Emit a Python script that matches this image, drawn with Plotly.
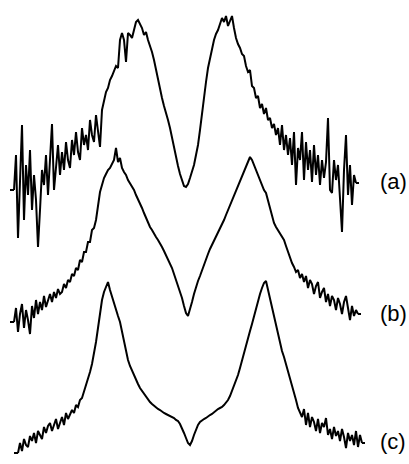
import plotly.graph_objects as go

# Field axis (arbitrary units), 2-unit sampling
field_a = list(range(14, 358, 2))
field_b = list(range(14, 360, 2))
field_c = list(range(18, 364, 2))

# Signal intensities (arbitrary units, baseline = 0 at left end)
signal_a = [0, 35, -48, 10, 65, -30, 25, -5, 40, -20, 15, -10, -57, -20, 20, 5, 35, -5, 30, 66,
            0, 25, 45, 15, 38, 20, 48, 30, 22, 50, 35, 58, 38, 30, 62, 45, 55, 40, 70, 55,
            48, 75, 60, 43,
            80, 90, 98, 102, 110, 114, 120, 124, 122, 150,
            157, 150, 128, 157, 155, 152, 160, 168, 170, 166,
            162, 155, 158, 150, 145, 138, 130, 120, 110, 100,
            92, 84, 78, 70, 62, 52, 42, 32, 24, 16,
            9, 4, 3, 6, 12, 18, 25, 35, 45, 60,
            78, 94, 108, 122, 132, 142, 150, 156, 160, 166,
            172, 168, 174, 164, 170, 174, 162, 152, 146,
            142, 136, 134, 124, 118, 120, 104, 102, 92, 94,
            82, 86, 76, 82, 70, 72, 62, 66, 55, 62,
            45, 65, 40, 55, 35, 52, 25, 58, 5, 42,
            30, 58, 10, 48, 20, 40, 8, 45, 15, 35,
            5, 30, 12, 28, 72, 0, -3, 30, 10, 25,
            -10, -42, 20, 55, -5, 25, -15, 15, 7]

signal_b = [0, 14, -10, 8, 18, -6, 12, 2, -12, 16, 4, 22, 8, 20, 12, 26, 15, 22, 28, 20,
            30, 24, 33, 28,
            30, 38, 34, 42, 40, 48, 46, 54, 52, 62, 60, 70, 70, 80, 80, 92,
            94, 102, 117, 130, 137, 144, 148, 152, 154, 159, 162, 174, 160, 164, 154, 150, 147, 142, 139, 135,
            132, 127, 123, 119, 114, 109, 104, 100, 95, 92, 88, 85, 82, 79, 75, 71, 67, 63, 59, 54,
            48, 42, 37, 31, 24, 16, 9, 6, 12, 20, 28, 35, 41, 46, 52, 58, 63, 68, 73, 77,
            81, 85, 90, 94, 98, 102, 107, 112, 117, 122, 127, 131, 136, 142, 147, 152, 157, 161, 165, 162,
            157, 152, 146, 142, 137, 132, 129, 122, 114, 106, 99, 95, 92, 88, 85, 82, 76, 70, 64, 59,
            55, 50, 52,
            44, 48, 40, 46, 34, 42, 38, 28, 36, 40,
            24, 30, 34, 20, 28, 16, 26, 22, 12, 24,
            18, 8, 20, 26, 14, 2, 16, 6, 12, 8]

signal_c = [0, 10, 2, 14, 8, 6, 17, 12, 20, 10, 22, 18, 14, 26, 20, 27, 30, 22, 28, 34,
            24, 30, 36, 28, 40, 34, 38,
            43, 40, 48, 46, 53, 55, 61, 67, 73, 81, 89, 99, 111,
            125, 141, 153, 161, 167, 171, 163, 156, 150, 143, 137, 131, 121, 111, 101, 93, 87, 82, 77, 73,
            69, 65, 62, 59, 56, 53, 51, 49, 47, 45, 44, 43, 41, 40, 39, 38, 37, 36, 35, 33,
            32, 29, 25, 20, 15, 10, 8, 12, 18, 24, 28, 31, 33, 34, 35, 37, 38, 39, 41, 43,
            44, 45, 46, 48, 50, 53, 57, 62, 67, 72, 78, 85, 93, 101, 109, 116, 122, 129, 137, 145,
            153, 159, 165, 170, 172, 163, 155, 146, 137, 127, 117, 109, 102, 96, 89, 81, 75, 69, 61, 53,
            45,
            41, 36, 44, 28, 40, 26, 36, 31, 22, 34,
            20, 30, 26, 35, 18, 24, 14, 26, 17, 22,
            12, 24, 16, 5, 20, 12, 18, 8, 22, 6,
            18, 10]

labels = ["(a)", "(b)", "(c)"]
offsets = [274, 142, 11]

fig = go.Figure()
line = dict(color="black", width=2)

for fx, sig, off in zip([field_a, field_b, field_c], [signal_a, signal_b, signal_c], offsets):
    ys = [off + v for v in sig]
    fig.add_trace(go.Scatter(x=fx, y=ys, mode="lines", line=line, hoverinfo="skip"))
    # baseline end markers
    fig.add_trace(go.Scatter(x=[fx[0] - 4, fx[0]], y=[ys[0], ys[0]], mode="lines",
                             line=line, hoverinfo="skip"))
    fig.add_trace(go.Scatter(x=[fx[-1], fx[-1] + 3], y=[ys[-1], ys[-1]], mode="lines",
                             line=line, hoverinfo="skip"))

label_y = [283, 151, 23]
for lab, ly in zip(labels, label_y):
    fig.add_annotation(x=393, y=ly, text=lab, showarrow=False,
                       font=dict(family="Liberation Sans, Arial, sans-serif", size=22, color="black"),
                       xanchor="center", yanchor="middle")

fig.update_layout(
    width=409, height=464,
    margin=dict(l=0, r=0, t=0, b=0),
    paper_bgcolor="white", plot_bgcolor="white",
    showlegend=False,
    xaxis=dict(range=[0, 409], visible=False, fixedrange=True),
    yaxis=dict(range=[0, 464], visible=False, fixedrange=True),
)

fig.write_html("out.html")
